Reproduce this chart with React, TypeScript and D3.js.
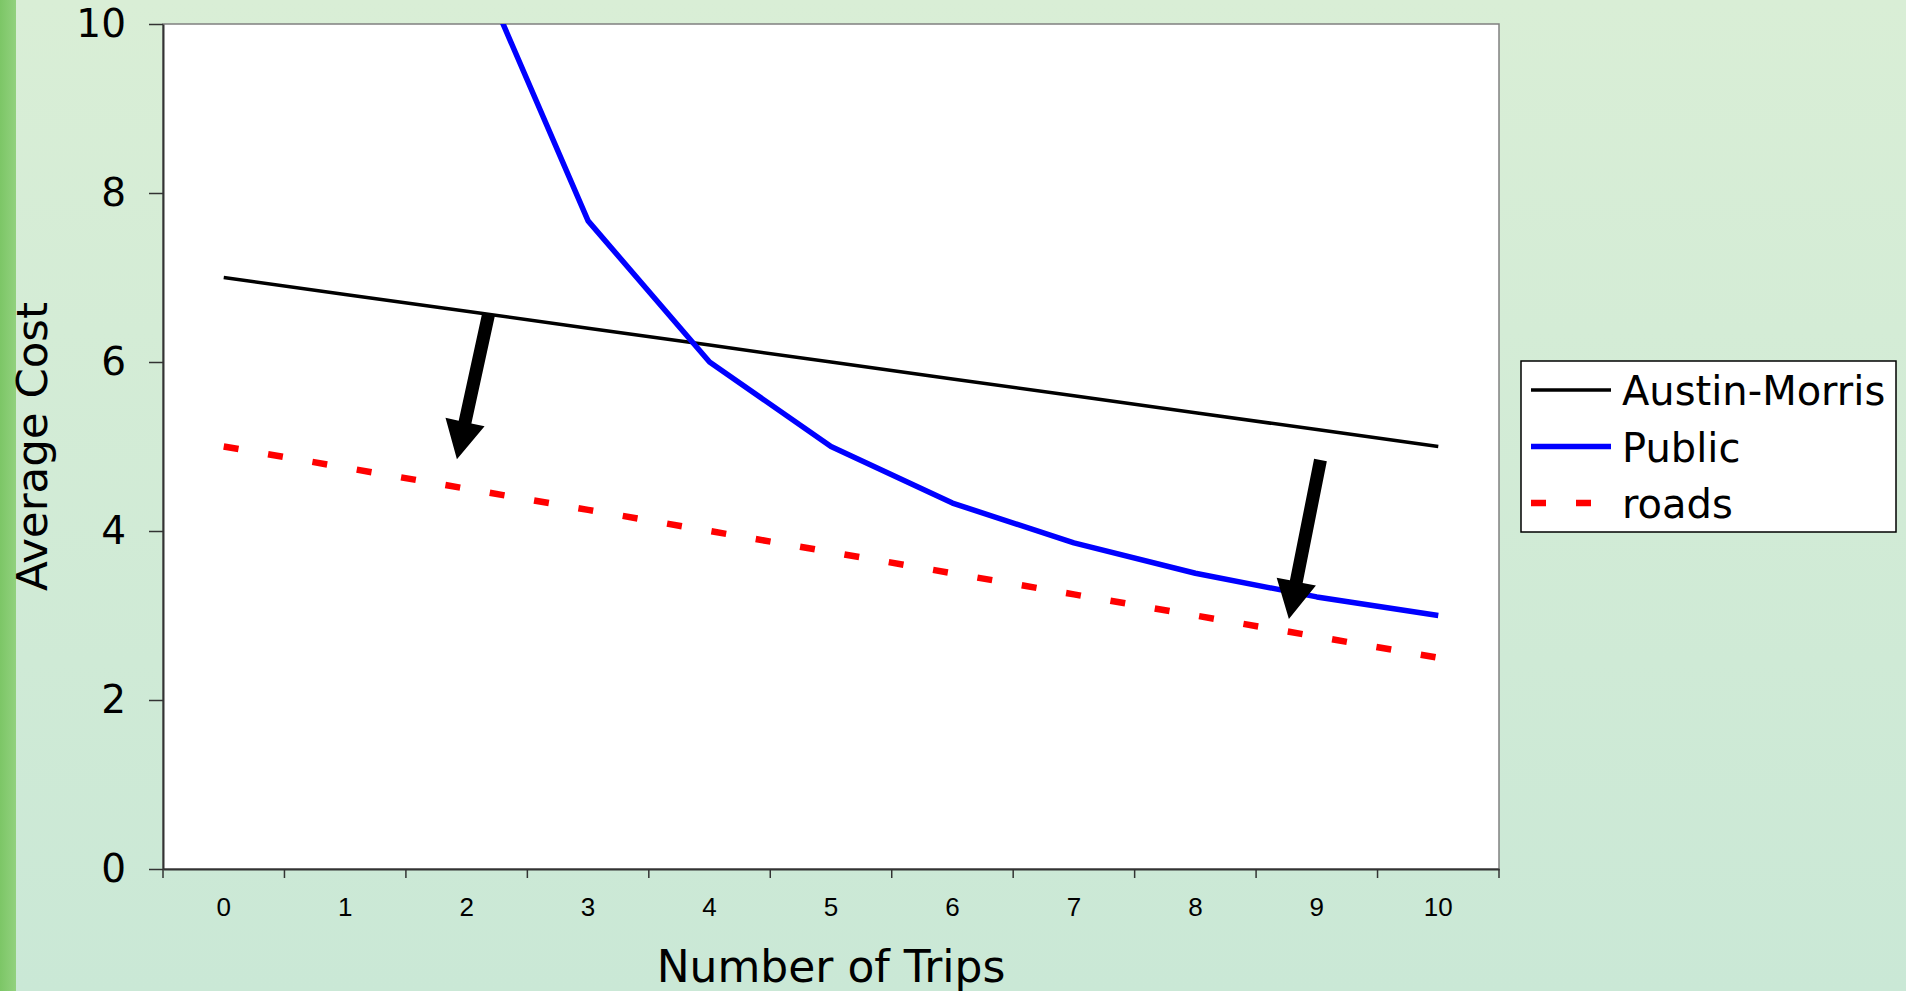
import * as d3 from "d3";
import { useEffect, useRef } from "react";

// chart values
const trips = ["0", "1", "2", "3", "4", "5", "6", "7", "8", "9", "10"];
const austinMorris = [7, 6.8, 6.6, 6.4, 6.2, 6, 5.8, 5.6, 5.4, 5.2, 5];
const publicCost: (number | null)[] = [null, 21, 11, 7.67, 6, 5, 4.33, 3.86, 3.5, 3.22, 3];
const roads = [5, 4.75, 4.5, 4.25, 4, 3.75, 3.5, 3.25, 3, 2.75, 2.5];
const yTicks = [0, 2, 4, 6, 8, 10];

// arrows drawn on top of the chart: [fromTrip, fromCost, toTrip, toCost]
const arrows = [
    [2.18, 6.56, 1.92, 4.85],
    [9.03, 4.84, 8.77, 2.96],
];

const legendItems = [
    { name: "Austin-Morris", color: "#000000", width: 3.5, dash: "none" },
    { name: "Public", color: "#0000ff", width: 5.5, dash: "none" },
    { name: "roads", color: "#ff0000", width: 6.5, dash: "15 30" },
];

const App = () => {
    const svgRef = useRef<SVGSVGElement | null>(null);

    const dimensions = { width: 1906, height: 991 };
    const margin = { top: 24, right: 407, bottom: 122, left: 163 };

    useEffect(() => {
        const svg = d3.select(svgRef.current);
        svg.selectAll("*").remove();

        const x0 = margin.left;
        const x1 = dimensions.width - margin.right;
        const y0 = dimensions.height - margin.bottom;
        const y1 = margin.top;

        // Background
        const defs = svg.append("defs");
        const bg = defs
            .append("linearGradient")
            .attr("id", "bg")
            .attr("x1", 0)
            .attr("y1", 0)
            .attr("x2", 0)
            .attr("y2", 1);
        bg.append("stop").attr("offset", "0%").attr("stop-color", "#d9eed6");
        bg.append("stop").attr("offset", "100%").attr("stop-color", "#cae8d6");

        const strip = defs
            .append("linearGradient")
            .attr("id", "strip")
            .attr("x1", 0)
            .attr("y1", 0)
            .attr("x2", 1)
            .attr("y2", 0);
        strip.append("stop").attr("offset", "0%").attr("stop-color", "#7cc666");
        strip.append("stop").attr("offset", "100%").attr("stop-color", "#92d17e");

        defs.append("clipPath")
            .attr("id", "plot-clip")
            .append("rect")
            .attr("x", x0)
            .attr("y", y1)
            .attr("width", x1 - x0)
            .attr("height", y0 - y1);

        svg.append("rect")
            .attr("width", dimensions.width)
            .attr("height", dimensions.height)
            .attr("fill", "url(#bg)");
        svg.append("rect")
            .attr("width", 16)
            .attr("height", dimensions.height)
            .attr("fill", "url(#strip)");

        // Scales
        const xBand = d3.scaleBand().domain(trips).range([x0, x1]);
        const xScale = d3
            .scaleLinear()
            .domain([-0.5, trips.length - 0.5])
            .range([x0, x1]);
        const yScale = d3.scaleLinear().domain([0, 10]).range([y0, y1]);

        // Plot area
        svg.append("rect")
            .attr("x", x0)
            .attr("y", y1)
            .attr("width", x1 - x0)
            .attr("height", y0 - y1)
            .attr("fill", "#ffffff")
            .attr("stroke", "#808080")
            .attr("stroke-width", 1.5);

        // Axes
        const yAxis = svg
            .append("g")
            .attr("transform", `translate(${x0}, 0)`)
            .call(
                d3
                    .axisLeft(yScale)
                    .tickValues(yTicks)
                    .tickSize(14)
                    .tickPadding(23)
                    .tickSizeOuter(0)
            );
        yAxis.select(".domain").attr("stroke", "#333").attr("stroke-width", 2);
        yAxis.selectAll(".tick line").attr("stroke", "#333").attr("stroke-width", 1.5);
        yAxis
            .selectAll(".tick text")
            .attr("font-family", "DejaVu Sans")
            .attr("font-size", 39)
            .attr("fill", "#000");

        const xAxis = svg
            .append("g")
            .attr("transform", `translate(0, ${y0})`)
            .call(d3.axisBottom(xBand).tickSize(0).tickPadding(0).tickSizeOuter(0));
        xAxis.select(".domain").attr("stroke", "#333").attr("stroke-width", 2);
        xAxis
            .selectAll(".tick text")
            .attr("font-family", "Liberation Sans")
            .attr("font-size", 26)
            .attr("fill", "#000")
            .attr("dy", null)
            .attr("y", 47);

        // tick marks sit between the categories
        svg.append("g")
            .selectAll("line")
            .data(d3.range(trips.length + 1))
            .join("line")
            .attr("x1", (d) => xScale(d - 0.5))
            .attr("x2", (d) => xScale(d - 0.5))
            .attr("y1", y0)
            .attr("y2", y0 + 9)
            .attr("stroke", "#333")
            .attr("stroke-width", 1.5);

        // Axis titles
        svg.append("text")
            .attr("x", (x0 + x1) / 2)
            .attr("y", 982)
            .attr("text-anchor", "middle")
            .attr("font-family", "DejaVu Sans")
            .attr("font-size", 44)
            .text("Number of Trips");

        svg.append("text")
            .attr("transform", `translate(47, ${(y0 + y1) / 2}) rotate(-90)`)
            .attr("text-anchor", "middle")
            .attr("font-family", "DejaVu Sans")
            .attr("font-size", 43.5)
            .text("Average Cost");

        // Lines
        const line = d3
            .line<number | null>()
            .defined((d) => d !== null)
            .x((_, i) => xScale(i))
            .y((d) => yScale(d as number));

        const plot = svg.append("g").attr("clip-path", "url(#plot-clip)");

        plot.append("path")
            .datum(roads)
            .attr("d", line)
            .attr("fill", "none")
            .attr("stroke", "#ff0000")
            .attr("stroke-width", 6.5)
            .attr("stroke-dasharray", "15 30");

        plot.append("path")
            .datum(austinMorris)
            .attr("d", line)
            .attr("fill", "none")
            .attr("stroke", "#000000")
            .attr("stroke-width", 3.5);

        plot.append("path")
            .datum(publicCost)
            .attr("d", line)
            .attr("fill", "none")
            .attr("stroke", "#0000ff")
            .attr("stroke-width", 5.5)
            .attr("stroke-linejoin", "round");

        // Arrows
        arrows.forEach(([fx, fy, tx, ty]) => {
            const sx = xScale(fx);
            const sy = yScale(fy);
            const ex = xScale(tx);
            const ey = yScale(ty);
            const len = Math.hypot(ex - sx, ey - sy);
            const ux = (ex - sx) / len;
            const uy = (ey - sy) / len;
            const headLen = 38;
            const headHalf = 20;
            const shaftHalf = 6.5;
            const bx = ex - ux * headLen;
            const by = ey - uy * headLen;
            const px = -uy;
            const py = ux;
            const pts: [number, number][] = [
                [sx + px * shaftHalf, sy + py * shaftHalf],
                [bx + px * shaftHalf, by + py * shaftHalf],
                [bx + px * headHalf, by + py * headHalf],
                [ex, ey],
                [bx - px * headHalf, by - py * headHalf],
                [bx - px * shaftHalf, by - py * shaftHalf],
                [sx - px * shaftHalf, sy - py * shaftHalf],
            ];
            svg.append("path")
                .attr("d", "M" + pts.map((p) => p.join(",")).join("L") + "Z")
                .attr("fill", "#000");
        });

        // Legend
        const legend = svg.append("g").attr("transform", "translate(1521, 361)");
        legend
            .append("rect")
            .attr("width", 375)
            .attr("height", 171)
            .attr("fill", "#ffffff")
            .attr("stroke", "#000")
            .attr("stroke-width", 1.5);

        const rows = legend
            .selectAll("g.item")
            .data(legendItems)
            .join("g")
            .attr("class", "item")
            .attr("transform", (_, i) => `translate(0, ${29 + i * 56.5})`);

        rows.append("line")
            .attr("x1", 10)
            .attr("x2", 90)
            .attr("stroke", (d) => d.color)
            .attr("stroke-width", (d) => d.width)
            .attr("stroke-dasharray", (d) => d.dash);

        rows.append("text")
            .attr("x", 101)
            .attr("y", 15)
            .attr("font-family", "DejaVu Sans")
            .attr("font-size", 40)
            .text((d) => d.name);
    }, []);

    return (
        <svg
            ref={svgRef}
            width={dimensions.width}
            height={dimensions.height}
            style={{ position: "absolute", left: 0, top: 0 }}
        />
    );
};

export default App;
